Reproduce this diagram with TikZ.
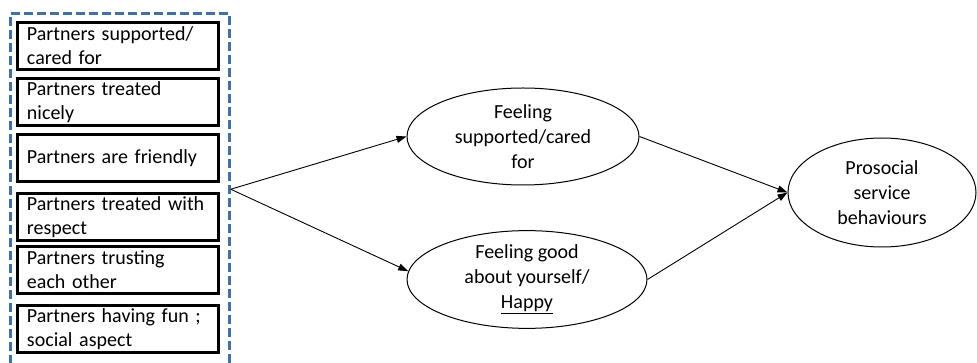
\documentclass[tikz,border=0pt]{standalone}
\usepackage{fontspec}
\setmainfont{Carlito}
\usetikzlibrary{shapes.geometric,arrows.meta}
\definecolor{groupblue}{RGB}{65,113,156}
\tikzset{
  factor/.style={draw, line width=3pt, minimum width=201pt, minimum height=47pt,
    text width=182pt, align=left, inner sep=2pt},
  feeling/.style={draw, ellipse, line width=1pt, inner sep=0pt, align=center},
  link/.style={line width=0.9pt, -{Triangle[length=10pt,width=7pt]}}
}
\begin{document}
\begin{tikzpicture}[x=1pt,y=-1pt,font=\fontsize{20}{25}\selectfont]
    \useasboundingbox (0,0) rectangle (977,363);

    % items of partner behaviour
    \node[draw=groupblue, line width=2.5pt, dash pattern=on 9pt off 4pt,
          minimum width=219pt, minimum height=351.5pt, inner sep=0pt] (group) at (120,189.25) {};
    \node[factor] (care) at (118,46) {Partners supported/\\[-1pt]cared for};
    \node[factor] (nice) at (118,102) {Partners treated\\[-1pt]nicely};
    \node[factor] (friendly) at (118,158.5) {Partners are friendly};
    \node[factor] (respect) at (118,217) {Partners treated with\\[-1pt]respect};
    \node[factor] (trust) at (118,270) {Partners trusting\\[-1pt]each other};
    \node[factor] (fun) at (118,329) {Partners having fun ;\\[-1pt]social aspect};

    % feelings and outcome
    \node[feeling, minimum width=232pt, minimum height=97pt] (feel1) at (523,136.5)
        {Feeling\\supported/cared\\for};
    \node[feeling, minimum width=240pt, minimum height=91pt] (feel2) at (527,279.5)
        {Feeling good\\about yourself/\\\underline{Happy}};
    \node[feeling, minimum width=188pt, minimum height=109pt] (prosocial) at (882,192.5)
        {Prosocial\\service\\behaviours};

    \draw[link] (group.east) -- (feel1.west);
    \draw[link] (group.east) -- (feel2.176);
    \draw[link] (feel1.east) -- (prosocial.west);
    \draw[link] (feel2.east) -- (prosocial.west);
\end{tikzpicture}
\end{document}
